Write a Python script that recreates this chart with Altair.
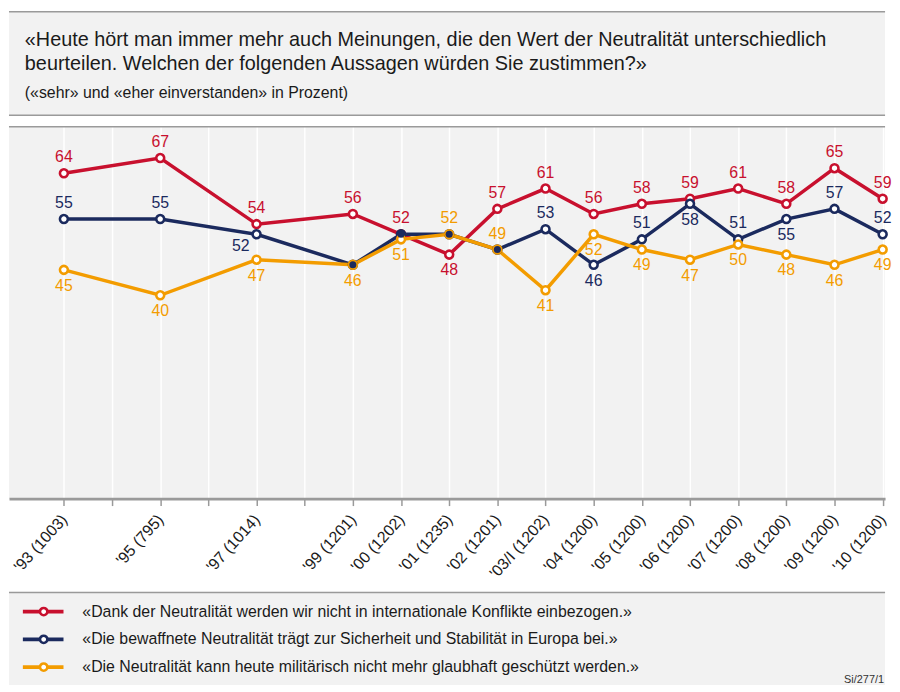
import altair as alt
import pandas as pd

# ---------------- data ----------------
years = [1993, 1995, 1997, 1999, 2000, 2001, 2002, 2003, 2004, 2005, 2006, 2007, 2008, 2009, 2010]
tick_labels = ["'93 (1003)", "'95 (795)", "'97 (1014)", "'99 (1201)", "'00 (1202)", "'01 (1235)",
               "'02 (1201)", "'03/I (1202)", "'04 (1200)", "'05 (1200)", "'06 (1200)", "'07 (1200)",
               "'08 (1200)", "'09 (1200)", "'10 (1200)"]
series_names = [
    "«Dank der Neutralität werden wir nicht in internationale Konflikte einbezogen.»",
    "«Die bewaffnete Neutralität trägt zur Sicherheit und Stabilität in Europa bei.»",
    "«Die Neutralität kann heute militärisch nicht mehr glaubhaft geschützt werden.»",
]
red = [64, 67, 54, 56, 52, 48, 57, 61, 56, 58, 59, 61, 58, 65, 59]
blue = [55, 55, 52, 46, 52, 52, 49, 53, 46, 51, 58, 51, 55, 57, 52]
orange = [45, 40, 47, 46, 51, 52, 49, 41, 52, 49, 47, 50, 48, 46, 49]
# label placement: a = above, b = below, l = lower left, n = no label
red_pos = ["a", "a", "a", "a", "a", "b", "a", "a", "a", "a", "a", "a", "a", "a", "a"]
blue_pos = ["a", "a", "l", "n", "n", "n", "n", "a", "b", "a", "b", "a", "b", "a", "a"]
orange_pos = ["b", "b", "b", "b", "b", "a", "a", "b", "b", "b", "b", "b", "b", "b", "b"]

title_lines = [
    "«Heute hört man immer mehr auch Meinungen, die den Wert der Neutralität unterschiedlich",
    "beurteilen. Welchen der folgenden Aussagen würden Sie zustimmen?»",
]
subtitle = "(«sehr» und «eher einverstanden» in Prozent)"
source = "Si/277/1"

colors = ["#c8102e", "#1b2a5e", "#f39c00"]

# ---------------- tables ----------------
rows = []
for name, vals, pos in zip(series_names, [red, blue, orange], [red_pos, blue_pos, orange_pos]):
    for yr, v, p in zip(years, vals, pos):
        rows.append({"series": name, "year": yr, "value": v, "pos": p})
df = pd.DataFrame(rows)
leg_df = pd.DataFrame({"series": series_names})

FONT = "Liberation Sans"
W = 884
HH = 106
MH = 376
LH = 94
GRAY = "#f2f2f2"
LINEC = "#9a9a9a"

expr = ""
for yr, lab in zip(years, tick_labels):
    expr += f'datum.value == {yr} ? "{lab}" : '
expr += '""'

color_scale = alt.Scale(domain=series_names, range=colors)
one = alt.Data(values=[{}])

# ---------------- header ----------------
hdr_rules = [
    alt.Chart(one).mark_rule(color=LINEC, strokeWidth=1.5).encode(
        x=alt.value(0), x2=alt.value(W), y=alt.value(yv))
    for yv in [0.75, HH - 0.75]
]
hdr_texts = [
    alt.Chart(one).mark_text(align="left", baseline="alphabetic", font=FONT, fontSize=20,
                             color="#1a1a1a").encode(
        x=alt.value(16), y=alt.value(yv), text=alt.value(t))
    for t, yv in zip(title_lines, [35, 59])
]
hdr_sub = alt.Chart(one).mark_text(align="left", baseline="alphabetic", font=FONT, fontSize=16,
                                   color="#1a1a1a").encode(
    x=alt.value(16), y=alt.value(88), text=alt.value(subtitle))
header = alt.layer(*hdr_rules, *hdr_texts, hdr_sub).properties(width=W, height=HH)

# ---------------- main plot ----------------
xenc = alt.X("year:Q",
             scale=alt.Scale(domain=[1991.86, 2010.05], nice=False, zero=False),
             axis=alt.Axis(values=list(range(1993, 2011)), labelExpr=expr, title=None,
                           grid=True, gridColor="white", gridWidth=1.5,
                           tickColor=LINEC, tickSize=7, tickWidth=1.5,
                           domainColor=LINEC, domainWidth=3,
                           labelAngle=-48, labelFont=FONT, labelFontSize=16,
                           labelColor="#1a1a1a", labelPadding=11, labelOverlap=False,
                           labelFlush=False))
yenc = alt.Y("value:Q", scale=alt.Scale(domain=[0, 73.3], nice=False), axis=None)
base = alt.Chart(df)

lines = [
    base.transform_filter(alt.datum.series == n).mark_line(color=c, strokeWidth=3.5)
    .encode(x=xenc, y=yenc)
    for n, c in zip(series_names, colors)
]
points = [
    base.transform_filter(alt.datum.series == n).mark_point(
        shape="circle", filled=True, fill="white", stroke=c, strokeWidth=2.6, size=64, opacity=1)
    .encode(x=xenc, y=yenc)
    for n, c in zip(series_names, colors)
]
dots = base.transform_filter(
    (alt.datum.series == series_names[1]) & (alt.datum.pos == "n")
).mark_point(shape="circle", filled=True, color=colors[1], size=50, opacity=1).encode(x=xenc, y=yenc)

cenc = alt.Color("series:N", scale=color_scale, legend=None)
txt_above = base.transform_filter(alt.datum.pos == "a").mark_text(
    dy=-16, font=FONT, fontSize=16, baseline="middle").encode(
    x=xenc, y=yenc, text="value:Q", color=cenc)
txt_below = base.transform_filter(alt.datum.pos == "b").mark_text(
    dy=16, font=FONT, fontSize=16, baseline="middle").encode(
    x=xenc, y=yenc, text="value:Q", color=cenc)
txt_left = base.transform_filter(alt.datum.pos == "l").mark_text(
    dx=-16, dy=12, font=FONT, fontSize=16, baseline="middle").encode(
    x=xenc, y=yenc, text="value:Q", color=cenc)

top_rule = alt.Chart(one).mark_rule(color=LINEC, strokeWidth=1.5).encode(
    x=alt.value(0), x2=alt.value(W), y=alt.value(0.75))

main = alt.layer(*lines, *points, dots, txt_above, txt_below, txt_left, top_rule).properties(
    width=W, height=MH)

# ---------------- legend ----------------
lenc_y = alt.Y("series:N", sort=series_names, axis=None,
               scale=alt.Scale(type="point", range=[20, 76], padding=0))
lstroke = alt.Stroke("series:N", scale=color_scale, legend=None)
leg_line = alt.Chart(leg_df).mark_rule(strokeWidth=4).encode(
    x=alt.value(14), x2=alt.value(55), y=lenc_y,
    color=alt.Color("series:N", scale=color_scale, legend=None))
leg_pt = alt.Chart(leg_df).mark_point(shape="circle", filled=True, fill="white", strokeWidth=2.6,
                                      size=55, opacity=1).encode(
    x=alt.value(35), y=lenc_y, stroke=lstroke)
leg_txt = alt.Chart(leg_df).mark_text(align="left", baseline="middle", font=FONT, fontSize=16,
                                      color="#1a1a1a").encode(
    x=alt.value(74), y=lenc_y, text="series:N")
leg_rule = alt.Chart(one).mark_rule(color=LINEC, strokeWidth=1.5).encode(
    x=alt.value(0), x2=alt.value(W), y=alt.value(0.75))
leg_src = alt.Chart(one).mark_text(align="right", baseline="alphabetic", font=FONT, fontSize=11,
                                   color="#333333").encode(
    x=alt.value(W - 1), y=alt.value(LH - 2), text=alt.value(source))
legend = alt.layer(leg_rule, leg_line, leg_pt, leg_txt, leg_src).properties(width=W, height=LH)

chart = alt.vconcat(header, main, legend, spacing=10).properties(
    padding=0, background="white"
).configure_view(fill=GRAY, stroke=None)

chart.save("out.html", embed_options={"renderer": "svg", "actions": False})
